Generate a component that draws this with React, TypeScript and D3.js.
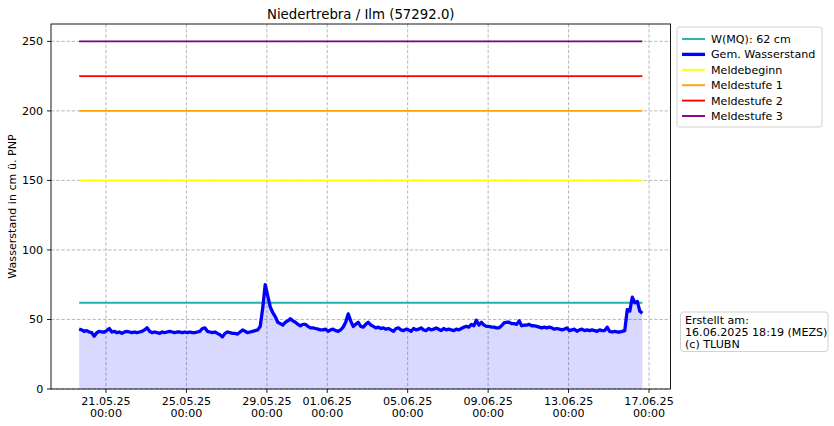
import React from "react";
import * as d3 from "d3";

const title = "Niedertrebra / Ilm (57292.0)";
const yLabel = "Wasserstand in cm ü. PNP";
// start of the series: 19.05.2025 16:00, one value every 3 hours
const startTime = Date.UTC(2025, 4, 19, 16);
const stepHours = 3;
const levels = [
  43, 42.5, 41.5, 42, 41, 40.5, 38, 40.5, 41.5, 41, 41, 42, 43.5, 41, 41.5, 40.5, 41, 40, 41, 41.5,
  41, 40.5, 41, 40.5, 41, 41.5, 42.5, 44, 41.5, 40.5, 41, 40.5, 40, 41, 40.5, 41, 41.5, 41, 40.5, 41,
  41, 40.5, 41, 40.5, 41, 40.5, 40.5, 41, 41.5, 43.5, 44, 41.5, 41, 40.5, 41, 40, 39, 37.5, 40, 41,
  40.5, 40, 40, 39.5, 41, 42.5, 41.5, 40.5, 41, 41.5, 42, 42.5, 45, 58, 75, 67, 59, 55, 52, 48,
  47, 46, 48, 49, 50.5, 49, 48, 46.5, 45.5, 46.5, 46.5, 45, 44, 44, 43.5, 43, 42.5, 42.5, 43, 41.5,
  42.5, 43, 42, 41.5, 42.5, 44.5, 48, 54, 49, 45, 46.5, 48, 45, 44.5, 46.5, 48, 46, 45, 44, 44.5,
  43.5, 44, 43, 43.5, 42.5, 41.5, 43.5, 44, 42.5, 42, 43, 42.5, 41.5, 43.5, 42.5, 43, 44, 42.5, 42, 43.5,
  42.5, 43, 44, 43, 42, 43.5, 42.5, 43, 42.5, 42, 43, 42.5, 43.5, 44.5, 45, 44.5, 46.5, 45.5, 49.5, 46,
  48, 46, 45, 45, 44.5, 44.5, 44, 44, 45.5, 47.5, 48, 48, 47, 47, 46.5, 49, 45.5, 46, 46, 46.5,
  45.5, 45.5, 45, 44.5, 44, 44.5, 44, 44.5, 44, 43, 43.5, 43, 42.5, 43, 44, 42, 42.5, 43, 41.5, 42.5,
  43, 42, 42.5, 42, 42.5, 42, 41.5, 42.5, 42, 42, 44.5, 41.5, 41, 41.5, 41, 41, 41.5, 42, 57, 56,
  66, 62, 63, 56, 54.5,
];
const thresholdValues = [62, 150, 200, 225, 250];
const thresholdColors = ["#20b2aa", "#ffff00", "#ffa500", "#ff0000", "#800080"];
const legendNames = ["W(MQ): 62 cm", "Gem. Wasserstand", "Meldebeginn", "Meldestufe 1", "Meldestufe 2", "Meldestufe 3"];
const legendColors = ["#20b2aa", "#0000ff", "#ffff00", "#ffa500", "#ff0000", "#800080"];
const xTickDates = [
  [2025, 4, 21], [2025, 4, 25], [2025, 4, 29], [2025, 5, 1],
  [2025, 5, 5], [2025, 5, 9], [2025, 5, 13], [2025, 5, 17],
];
const xTickLabels = ["21.05.25", "25.05.25", "29.05.25", "01.06.25", "05.06.25", "09.06.25", "13.06.25", "17.06.25"];
const yTicks = [0, 50, 100, 150, 200, 250];
const noteLines = ["Erstellt am:", "16.06.2025 18:19 (MEZS)", "(c) TLUBN"];

const W = 834;
const H = 426;
const L = 51;
const R = 670.5;
const T = 24;
const B = 389;
const font = "DejaVu Sans, sans-serif";
const fs = 11.1;

export default function App() {
  const series = levels.map((v, i) => ({ t: new Date(startTime + i * stepHours * 3600e3), v }));
  const t0 = series[0].t.getTime();
  const t1 = series[series.length - 1].t.getTime();
  const pad = (t1 - t0) * 0.05;
  const x = d3.scaleUtc().domain([new Date(t0 - pad), new Date(t1 + pad)]).range([L, R]);
  const y = d3.scaleLinear().domain([0, 262.5]).range([B, T]);

  const line = d3.line<{ t: Date; v: number }>().x((d) => x(d.t)).y((d) => y(d.v));
  const area = d3
    .area<{ t: Date; v: number }>()
    .x((d) => x(d.t))
    .y0(y(0))
    .y1((d) => y(d.v));

  const xTicks = xTickDates.map(([yy, mm, dd]) => new Date(Date.UTC(yy, mm, dd)));

  const legX = 677;
  const legY = 27;
  const legW = 145;
  const legH = 100;

  return (
    <svg width={W} height={H} style={{ position: "absolute", left: 0, top: 0, background: "#fff" }} fontFamily={font}>
      <rect x={0} y={0} width={W} height={H} fill="#fff" />
      {/* grid */}
      <g stroke="#b0b0b0" strokeWidth={0.9} strokeDasharray="3.3,1.9">
        {xTicks.map((d, i) => (
          <line key={"gx" + i} x1={x(d)} x2={x(d)} y1={T} y2={B} />
        ))}
        {yTicks.map((v) => (
          <line key={"gy" + v} x1={L} x2={R} y1={y(v)} y2={y(v)} />
        ))}
      </g>
      {/* fill */}
      <path d={area(series) || ""} fill="#0000ff" fillOpacity={0.15} stroke="none" />
      {/* thresholds */}
      {thresholdValues.map((v, i) => (
        <line
          key={"th" + i}
          x1={x(new Date(t0))}
          x2={x(new Date(t1))}
          y1={y(v)}
          y2={y(v)}
          stroke={thresholdColors[i]}
          strokeWidth={1.9}
        />
      ))}
      {/* level */}
      <path d={line(series) || ""} fill="none" stroke="#0000ff" strokeWidth={3.3} strokeLinejoin="round" />
      {/* frame */}
      <rect x={L} y={T} width={R - L} height={B - T} fill="none" stroke="#000" strokeWidth={0.9} />
      {/* y axis */}
      {yTicks.map((v) => (
        <g key={"yt" + v}>
          <line x1={L - 3.9} x2={L} y1={y(v)} y2={y(v)} stroke="#000" strokeWidth={0.9} />
          <text x={L - 7.8} y={y(v) + 4} fontSize={fs} textAnchor="end" fill="#000">
            {v}
          </text>
        </g>
      ))}
      <text
        transform={`translate(15.5,${(T + B) / 2}) rotate(-90)`}
        fontSize={fs}
        textAnchor="middle"
        fill="#000"
      >
        {yLabel}
      </text>
      {/* x axis */}
      {xTicks.map((d, i) => (
        <g key={"xt" + i}>
          <line x1={x(d)} x2={x(d)} y1={B} y2={B + 3.9} stroke="#000" strokeWidth={0.9} />
          <text x={x(d)} y={B + 16} fontSize={fs} textAnchor="middle" fill="#000">
            {xTickLabels[i]}
          </text>
          <text x={x(d)} y={B + 28} fontSize={fs} textAnchor="middle" fill="#000">
            00:00
          </text>
        </g>
      ))}
      {/* title */}
      <text x={(L + R) / 2} y={19} fontSize={13.3} textAnchor="middle" fill="#000">
        {title}
      </text>
      {/* legend */}
      <rect x={legX} y={legY} width={legW} height={legH} rx={2.5} fill="#fff" fillOpacity={0.8} stroke="#cccccc" strokeWidth={0.9} />
      {legendNames.map((n, i) => {
        const cy = legY + 12 + i * 15.4;
        return (
          <g key={"lg" + i}>
            <line x1={legX + 5} x2={legX + 28} y1={cy} y2={cy} stroke={legendColors[i]} strokeWidth={i === 1 ? 3.3 : 1.9} />
            <text x={legX + 34} y={cy + 4} fontSize={fs} fill="#000">
              {n}
            </text>
          </g>
        );
      })}
      {/* note */}
      <rect x={680.5} y={312} width={147.5} height={39.5} rx={3} fill="#fff" stroke="#cccccc" strokeWidth={0.9} />
      {noteLines.map((s, i) => (
        <text key={"n" + i} x={685} y={324 + i * 12} fontSize={fs} fill="#000">
          {s}
        </text>
      ))}
    </svg>
  );
}
